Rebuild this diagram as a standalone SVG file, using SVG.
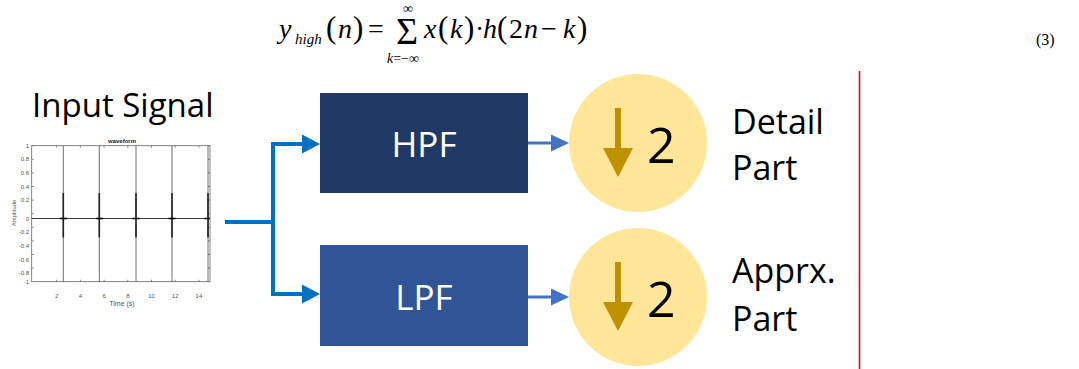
<svg xmlns="http://www.w3.org/2000/svg" width="1079" height="369" viewBox="0 0 1079 369">
<defs>
<style>
.eq{font-family:"Liberation Serif",serif;font-size:28px;fill:#000}
.it{font-style:italic}
.lbl{font-family:"Open Sans","Noto Sans",sans-serif;fill:#000}
.box{font-family:"Open Sans","Noto Sans",sans-serif;font-size:35px;fill:#fff;text-anchor:middle}
.tk{font-family:"Liberation Sans",sans-serif;font-size:6px;fill:#555}
.ax{stroke:#666;stroke-width:0.8;fill:none}
.spk{stroke:#333;stroke-width:1;opacity:0.7}
.spkb{stroke:#222;stroke-width:1.6}
.conn{fill:none;stroke:#0070C0;stroke-width:4}
.conn2{fill:none;stroke:#4472C4;stroke-width:3}
.circ{fill:#FFE699}
.garrow{fill:#BF9000}
</style>
<marker id="ahBig" markerUnits="userSpaceOnUse" viewBox="0 0 18 19" markerWidth="18" markerHeight="19" refX="2" refY="9.5" orient="auto">
<path d="M0,0 L18,9.5 L0,19 Z" fill="#0070C0"/>
</marker>
<marker id="ahSmall" markerUnits="userSpaceOnUse" viewBox="0 0 18 17" markerWidth="18" markerHeight="17" refX="2" refY="8.5" orient="auto">
<path d="M0,0 L18,8.5 L0,17 Z" fill="#4472C4"/>
</marker>
</defs>
<rect width="1079" height="369" fill="#fff"/>

<g id="equation">
<text class="eq it" x="279" y="38">y</text>
<text class="eq it" x="295" y="44" style="font-size:15px">high</text>
<text class="eq" x="326" y="38" style="font-size:31px">(</text>
<text class="eq it" x="338" y="38">n</text>
<text class="eq" x="353" y="38" style="font-size:31px">)</text>
<text class="eq" x="368" y="38">=</text>
<text class="eq" x="407" y="44" text-anchor="middle" style="font-size:38px">Σ</text>
<text class="eq" x="408" y="13" text-anchor="middle" style="font-size:14px">∞</text>
<text class="eq" x="403" y="63" text-anchor="middle" style="font-size:14px"><tspan font-style="italic">k</tspan>=−∞</text>
<text class="eq it" x="424" y="38">x</text>
<text class="eq" x="438" y="38" style="font-size:31px">(</text>
<text class="eq it" x="450" y="38">k</text>
<text class="eq" x="464" y="38" style="font-size:31px">)</text>
<text class="eq" x="475" y="38">·</text>
<text class="eq it" x="483" y="38">h</text>
<text class="eq" x="497" y="38" style="font-size:31px">(</text>
<text class="eq" x="509" y="38">2</text>
<text class="eq it" x="524" y="38">n</text>
<text class="eq" x="541" y="38">−</text>
<text class="eq it" x="563" y="38">k</text>
<text class="eq" x="577" y="38" style="font-size:31px">)</text>
<text class="eq" x="1036" y="45" style="font-size:16px">(3)</text>
</g>

<g id="input-signal">
<text class="lbl" x="32" y="117" style="font-size:33px">Input Signal</text>
<text class="tk" x="122" y="143" text-anchor="middle" style="font-weight:bold;font-size:6px;fill:#222">waveform</text>
<rect class="ax" x="31.7" y="145.7" width="178.3" height="136"/>
<g class="ax">
<path d="M31.7,145.7h2M31.7,159.3h2M31.7,172.9h2M31.7,186.5h2M31.7,200.1h2M31.7,213.7h2M31.7,227.3h2M31.7,240.9h2M31.7,254.5h2M31.7,268.1h2M210,145.7h-2M210,159.3h-2M210,172.9h-2M210,186.5h-2M210,200.1h-2M210,213.7h-2M210,227.3h-2M210,240.9h-2M210,254.5h-2M210,268.1h-2"/>
<path d="M56.7,281.7v-2M80.4,281.7v-2M104.1,281.7v-2M127.8,281.7v-2M151.5,281.7v-2M175.2,281.7v-2M198.9,281.7v-2M56.7,145.7v2M80.4,145.7v2M104.1,145.7v2M127.8,145.7v2M151.5,145.7v2M175.2,145.7v2M198.9,145.7v2"/>
</g>
<g class="tk" text-anchor="end">
<text x="29" y="147.7">1</text>
<text x="29" y="161.3">0.8</text>
<text x="29" y="174.9">0.6</text>
<text x="29" y="188.5">0.4</text>
<text x="29" y="202.1">0.2</text>
<text x="29" y="220.7">0</text>
<text x="29" y="234.3">-0.2</text>
<text x="29" y="247.9">-0.4</text>
<text x="29" y="261.5">-0.6</text>
<text x="29" y="275.1">-0.8</text>
<text x="29" y="283.7">-1</text>
</g>
<g class="tk" text-anchor="middle">
<text x="56.7" y="297.5">2</text>
<text x="80.4" y="297.5">4</text>
<text x="104.1" y="297.5">6</text>
<text x="127.8" y="297.5">8</text>
<text x="151.5" y="297.5">10</text>
<text x="175.2" y="297.5">12</text>
<text x="198.9" y="297.5">14</text>
<text x="122" y="306" style="font-size:7px">Time (s)</text>
</g>
<text class="tk" transform="translate(16,213) rotate(-90)" text-anchor="middle">Amplitude</text>
<path d="M31.7,218.5H210" stroke="#222" stroke-width="0.9"/>
<path class="spk" d="M63.3,145.7V281.7M99.3,145.7V281.7M136,145.7V281.7M172,145.7V281.7M208,145.7V281.7"/>
<path class="spkb" d="M63.3,193V237.5M99.3,193V237.5M136,193V237.5M172,193V237.5M208,193V237.5"/>
<path d="M60,218.5h7M96,218.5h7M132.5,218.5h7M168.5,218.5h7M204.5,218.5h5" stroke="#000" stroke-width="1.6"/>
</g>

<g id="connectors">
<path class="conn" d="M225,222H273M273,144V294"/>
<path class="conn" d="M271,144H304" marker-end="url(#ahBig)"/>
<path class="conn" d="M271,294H304" marker-end="url(#ahBig)"/>
<path class="conn2" d="M528,143H553" marker-end="url(#ahSmall)"/>
<path class="conn2" d="M528,297H553" marker-end="url(#ahSmall)"/>
</g>

<g id="hpf">
<rect x="320" y="93" width="208" height="100" fill="#203864"/>
<text class="box" x="424" y="157">HPF</text>
</g>
<g id="lpf">
<rect x="320" y="245" width="208" height="101" fill="#2F5597"/>
<text class="box" x="424" y="310">LPF</text>
</g>

<g id="down-top">
<circle class="circ" cx="638" cy="143" r="69"/>
<rect class="garrow" x="615" y="108" width="6" height="42"/>
<polygon class="garrow" points="603,148 633,148 618,177"/>
<text class="lbl" x="647" y="163" style="font-size:50px">2</text>
</g>
<g id="down-bottom">
<circle class="circ" cx="638" cy="297" r="69"/>
<rect class="garrow" x="615" y="262" width="6" height="42"/>
<polygon class="garrow" points="603,302 633,302 618,331"/>
<text class="lbl" x="647" y="317" style="font-size:50px">2</text>
</g>

<g id="detail-label">
<text class="lbl" x="732" y="134" style="font-size:34px">Detail</text>
<text class="lbl" x="732" y="180" style="font-size:34px">Part</text>
</g>
<g id="apprx-label">
<text class="lbl" x="732" y="283" style="font-size:34px">Apprx.</text>
<text class="lbl" x="732" y="331" style="font-size:34px">Part</text>
</g>

<line x1="859.5" y1="71" x2="859.5" y2="369" stroke="#E00000" stroke-width="1.5"/>
</svg>
